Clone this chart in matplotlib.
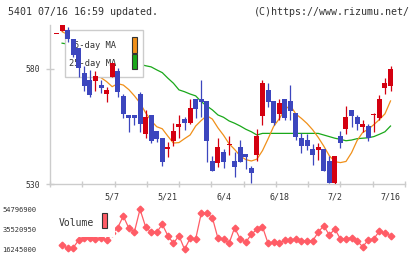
import numpy as np
import matplotlib
matplotlib.use("Agg")
import matplotlib.pyplot as plt
from matplotlib.patches import Rectangle

plt.rcParams['font.family'] = ['DejaVu Sans Mono']

# daily candles (price)
opens = [595.1, 596.7, 597.0, 592.9, 589.0, 578.4, 575.2, 574.8, 573.0, 569.0,
         576.7, 579.1, 568.3, 560.0, 560.0, 569.1, 551.7, 560.0, 553.0, 550.1,
         545.1, 548.8, 554.9, 558.3, 556.7, 567.0, 567.0, 566.1, 540.0, 539.0,
         543.8, 547.0, 540.0, 546.2, 543.0, 536.8, 542.6, 559.7, 570.9, 566.1,
         560.4, 567.0, 566.1, 560.7, 550.1, 549.1, 545.2, 544.8, 545.2, 540.0,
         530.6, 550.9, 553.8, 562.2, 559.0, 554.9, 555.2, 560.0, 558.9, 571.9,
         572.7]
highs = [595.1, 599.1, 598.4, 592.9, 589.0, 581.3, 579.6, 579.3, 575.2, 572.3,
         582.5, 580.5, 569.1, 560.0, 560.0, 570.1, 562.2, 560.0, 553.0, 550.1,
         548.4, 556.4, 560.0, 559.3, 567.0, 567.0, 575.2, 566.1, 542.3, 550.1,
         545.2, 550.9, 543.8, 549.2, 543.0, 538.0, 553.9, 575.2, 574.0, 566.1,
         567.0, 567.0, 573.0, 560.7, 552.3, 551.6, 547.5, 547.7, 545.2, 542.0,
         542.2, 553.0, 563.9, 562.2, 560.0, 557.7, 556.1, 561.0, 568.6, 576.2,
         581.3]
lows = [595.1, 596.7, 591.9, 585.3, 576.7, 570.4, 568.0, 570.4, 569.7, 565.8,
        576.7, 568.0, 558.6, 552.7, 555.6, 552.7, 549.9, 548.0, 548.3, 537.8,
        541.9, 546.5, 549.9, 553.5, 556.0, 558.6, 559.3, 539.7, 535.8, 537.5,
        536.8, 542.6, 532.9, 539.7, 536.4, 530.3, 540.0, 555.7, 563.6, 555.7,
        557.8, 557.8, 557.8, 549.1, 543.6, 544.6, 538.4, 540.4, 535.8, 530.6,
        529.3, 545.8, 551.7, 554.9, 553.5, 552.6, 548.8, 552.7, 557.8, 569.0,
        570.6]
closes = [595.1, 599.1, 592.9, 586.1, 580.3, 572.6, 568.7, 577.0, 571.9, 570.9,
          582.5, 570.1, 560.4, 558.8, 558.8, 556.0, 559.3, 548.8, 549.6, 539.7,
          546.2, 553.0, 556.1, 556.7, 563.2, 562.6, 565.8, 548.8, 535.8, 546.2,
          539.7, 547.0, 537.5, 539.7, 541.6, 534.9, 551.0, 573.8, 565.8, 556.7,
          565.1, 558.9, 561.9, 550.6, 546.5, 546.5, 542.6, 546.2, 535.8, 530.6,
          542.2, 547.7, 559.0, 559.7, 556.0, 556.1, 549.9, 560.0, 567.0, 574.0,
          580.0]

nan = np.nan
ma5 = [nan, 596.2, 595.0, 592.0, 588.0, 584.0, 580.0, 577.5, 576.2, 574.5,
       572.3, 573.6, 573.0, 571.0, 568.3, 565.2, 561.0, 557.5, 554.9, 554.0,
       550.8, 547.8, 548.0, 549.7, 551.3, 555.2, 557.6, 559.7, 558.2, 554.4,
       551.2, 547.5, 545.0, 542.2, 540.6, 540.0, 540.8, 544.5, 549.6, 555.0,
       558.3, 562.3, 564.2, 560.4, 558.5, 556.3, 553.6, 550.3, 546.5, 542.3,
       539.7, 539.3, 539.8, 543.6, 548.9, 552.4, 553.8, 555.8, 558.0, 560.5,
       566.1]
ma25 = [nan, 591.2, 590.8, 590.2, 589.6, 589.0, 588.3, 587.7, 587.0, 586.3,
        585.6, 584.8, 584.0, 583.3, 582.6, 582.0, 581.4, 580.9, 579.6, 578.4,
        576.0, 573.8, 570.9, 570.1, 569.1, 568.3, 565.8, 563.9, 562.2, 560.0,
        559.0, 557.4, 556.4, 555.2, 553.8, 552.7, 551.3, 552.0, 552.0, 552.0,
        552.0, 552.0, 552.0, 552.0, 552.0, 552.0, 552.0, 552.0, 551.3, 550.6,
        549.9, 549.4, 548.8, 549.1, 549.7, 549.9, 550.1, 550.6, 551.6, 552.7,
        555.2]

# volume in millions of shares (first day not shown)
volume_m = [nan, 20.4, 17.2, 17.8, 25.2, 27.4, 27.4, 26.2, 26.8, 25.0, 31.5,
            37.1, 48.3, 36.5, 33.2, 54.7969, 38.0, 32.6, 32.6, 40.3, 29.4,
            22.0, 29.4, 16.245, 26.8, 26.2, 50.9, 50.9, 46.7, 26.8, 26.2,
            22.0, 37.1, 26.2, 23.0, 30.7, 35.5, 38.0, 22.0, 23.0, 22.0,
            25.2, 25.2, 26.2, 24.2, 24.2, 24.2, 32.6, 39.0, 30.0, 35.8,
            26.2, 26.2, 27.4, 24.2, 18.7, 25.2, 26.2, 33.9, 31.7, 29.4]

date_labels = ["5/7", "5/21", "6/4", "6/18", "7/2", "7/16"]
date_idx = [10, 20, 30, 40, 50, 60]
vol_ticks = [16245000, 35520950, 54796900]

W, H = 420, 259
RED = "#d40010"
BLUE = "#3c46be"
ORANGE = "#f0901a"
GREEN = "#1aa81a"
GRID = "#cccccc"
TXT = "#333333"


def fx(px):
    return px / W


def fy(py):
    return 1 - py / H


fig = plt.figure(figsize=(W / 100, H / 100), dpi=100)
fig.patch.set_facecolor("white")

x = np.arange(len(opens))
o = np.array(opens)
c = np.array(closes)
up = c >= o
col = np.where(up, RED, BLUE)

ax = fig.add_axes([fx(50), fy(184), fx(405) - fx(50), (184 - 25) / H])
ax.set_xlim(-1.168, 62.6)
ax.set_ylim(530, 599.1)

ax.plot(x, ma25, color=GREEN, lw=0.9, zorder=2)
ax.plot(x, ma5, color=ORANGE, lw=0.9, zorder=2)

ax.vlines(x, lows, highs, colors=col, lw=0.9, zorder=5)
body_h = np.maximum(np.abs(c - o), 0.45)
ax.bar(x, body_h, bottom=np.minimum(o, c), width=0.9, color=col, lw=0, zorder=5)

for s in ["top", "right"]:
    ax.spines[s].set_visible(False)
for s in ["left", "bottom"]:
    ax.spines[s].set_color(GRID)
    ax.spines[s].set_linewidth(1.0)

ax.set_xticks(np.linspace(-1.168, 62.6, 12))
ax.tick_params(axis="x", which="major", direction="inout", length=4.8,
               color=GRID, width=1.0, labelbottom=False)
ax.set_xticks(date_idx, date_labels, minor=True)
ax.tick_params(axis="x", which="minor", length=0, pad=6, labelsize=6,
               labelcolor=TXT)
ax.set_yticks([530, 580], ["530", "580"])
ax.tick_params(axis="y", direction="inout", length=5.8, color=GRID, width=1.0,
               pad=4.3, labelsize=5.8, labelcolor=TXT)

# moving average legend (candles are drawn on top of it)
tf = fig.transFigure
ax.add_patch(Rectangle((fx(65), fy(77.3)), fx(143.3) - fx(65), (77.3 - 30) / H,
                       transform=tf, facecolor="white", edgecolor=GRID,
                       lw=1.0, zorder=3, clip_on=False))
ax.text(fx(116), fy(46), "5-day MA", transform=tf, ha="right", va="center",
        fontsize=6.3, color=TXT, zorder=4)
ax.text(fx(116), fy(63), "25-day MA", transform=tf, ha="right", va="center",
        fontsize=6.3, color=TXT, zorder=4)
ax.add_patch(Rectangle((fx(131.7), fy(52.7)), fx(137.3) - fx(131.7), 16 / H,
                       transform=tf, facecolor=ORANGE, edgecolor="#333333",
                       lw=0.8, zorder=4, clip_on=False))
ax.add_patch(Rectangle((fx(131.7), fy(69.3)), fx(137.3) - fx(131.7), 15.3 / H,
                       transform=tf, facecolor=GREEN, edgecolor="#333333",
                       lw=0.8, zorder=4, clip_on=False))

# volume panel
vax = fig.add_axes([fx(50), fy(249.3), fx(405) - fx(50), 40 / H])
vax.set_xlim(-1.168, 62.6)
vax.set_ylim(vol_ticks[0], vol_ticks[-1])
vax.plot(x, np.array(volume_m) * 1e6, color="#ff5c66", lw=0.9, marker="D",
         ms=3.4, clip_on=False)
for s in vax.spines.values():
    s.set_visible(False)
vax.set_xticks([])
vax.set_yticks(vol_ticks, [str(v) for v in vol_ticks])
vax.tick_params(axis="y", length=0, pad=10.0, labelsize=5.1, labelcolor=TXT)
vax.add_patch(Rectangle((fx(55), fy(237)), fx(115) - fx(55), 32 / H,
                        transform=tf, facecolor="white", edgecolor="none",
                        zorder=5, clip_on=False))
vax.text(fx(59), fy(222.5), "Volume", transform=tf, ha="left", va="center",
         fontsize=7, color=TXT, zorder=6)
vax.add_patch(Rectangle((fx(101.7), fy(228.3)), fx(107.3) - fx(101.7), 15.6 / H,
                        transform=tf, facecolor="#ff5c66", edgecolor="#333333",
                        lw=0.8, zorder=6, clip_on=False))

fig.text(fx(8), fy(12), "5401 07/16 16:59 updated.", ha="left", va="center",
         fontsize=7.2, color=TXT)
fig.text(fx(410), fy(12), "(C)https://www.rizumu.net/", ha="right",
         va="center", fontsize=7.2, color=TXT)

fig.savefig("out.png", dpi=100)
